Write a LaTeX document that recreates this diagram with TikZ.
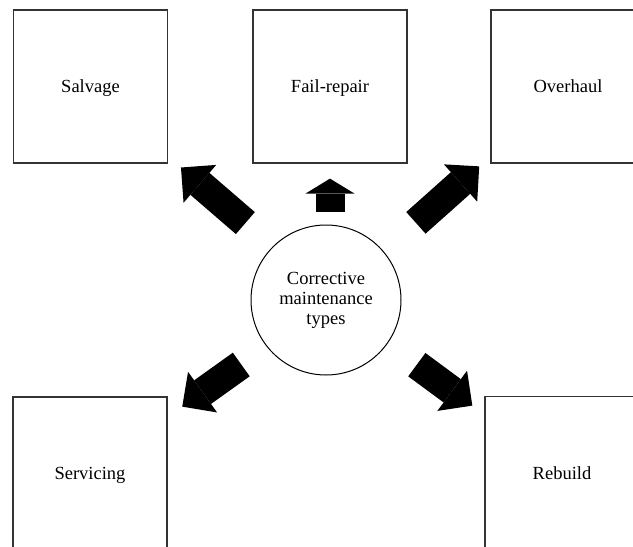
\documentclass[tikz,border=0pt]{standalone}
\usepackage{fontspec}
\setmainfont{Liberation Serif}
\usetikzlibrary{arrows.meta,positioning}

\tikzset{
  typebox/.style={draw=black!80,line width=1.2pt,minimum width=154pt,minimum height=153pt,
    inner sep=0pt,text height=16pt,text depth=4pt,font=\fontsize{18.5}{20}\selectfont},
  hubcircle/.style={draw,line width=1pt,circle,minimum size=150pt,inner sep=0pt,
    align=center,font=\fontsize{18.5}{20}\selectfont},
  fatarrow/.style={line width=29pt,line cap=butt,
    -{Triangle[length=25pt,width=50pt,line width=0pt]}},
}

\begin{document}
\begin{tikzpicture}[x=1pt,y=-1pt]
  \useasboundingbox (0,0) rectangle (633,547);
  \node[hubcircle] (hub) at (326,300) {Corrective\\maintenance\\types};
  \node[typebox] (salvage)   at (90.5,86.5) {Salvage};
  \node[typebox] (failrep)   at (330,86.5)  {Fail-repair};
  \node[typebox] (overhaul)  at (568,86.5)  {Overhaul};
  \node[typebox] (servicing) at (90,473.5)  {Servicing};
  \node[typebox] (rebuild)   at (562,473)   {Rebuild};
  % block arrows out of the hub
  \draw[fatarrow,shorten <=36pt,shorten >=17pt] (hub.135) -- (salvage.-42);
  \draw[fatarrow,shorten <=13pt,shorten >=15pt,
    -{Triangle[length=15pt,width=49pt,line width=0pt]}] (hub.north -| failrep.south) -- (failrep.south);
  \draw[fatarrow,shorten <=43pt,shorten >=15pt] (hub.40)  -- (overhaul.222);
  \draw[fatarrow,shorten <=31pt,shorten >=18pt] (hub.218) -- (servicing.36);
  \draw[fatarrow,shorten <=36pt,shorten >=15pt] (hub.-35) -- (rebuild.143);
\end{tikzpicture}
\end{document}
